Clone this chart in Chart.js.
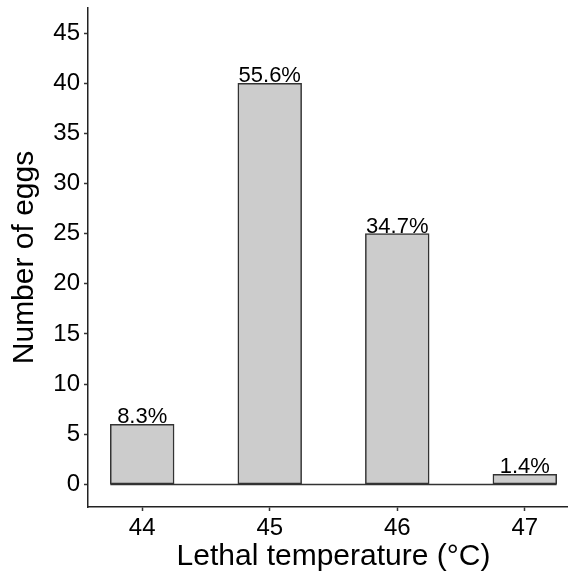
<!DOCTYPE html>
<html><head><meta charset="utf-8">
<script src="https://cdn.jsdelivr.net/npm/chart.js@4/dist/chart.umd.min.js"></script>
<style>html,body{margin:0;padding:0;overflow:hidden;background:#fff;width:568px;height:575px}</style>
</head><body>
<canvas id="c" width="579" height="575" style="display:block;width:579px;height:575px"></canvas>
<script>
const binCenters = [44, 44.5, 45, 45.5, 46, 46.5, 47];
const counts = [6, 0, 40, 0, 25, 0, 1];
const binWidth = 0.5;
const xTicks = [44, 45, 46, 47];
const yTicks = [0, 5, 10, 15, 20, 25, 30, 35, 40, 45];
const xTitle = 'Lethal temperature (°C)';
const yTitle = 'Number of eggs';

const total = counts.reduce((a, b) => a + b, 0);
const pctLabels = counts.map(c => c > 0 ? (c / total * 100).toFixed(1) + '%' : '');
const FONT = "'Liberation Sans', Arial, sans-serif";

const barData = binCenters.map((x, i) => ({x: x, y: counts[i]}));
const baseline = [
  {x: binCenters[0] - binWidth / 2, y: 0},
  {x: binCenters[binCenters.length - 1] + binWidth / 2, y: 0}
];

const labelPlugin = {
  id: 'pctLabels',
  afterDatasetsDraw(chart) {
    const meta = chart.getDatasetMeta(0);
    const ctx = chart.ctx;
    ctx.save();
    ctx.font = '22px ' + FONT;
    ctx.fillStyle = '#000';
    ctx.textAlign = 'center';
    ctx.textBaseline = 'alphabetic';
    meta.data.forEach((el, i) => {
      if (!pctLabels[i]) return;
      ctx.fillText(pctLabels[i], el.x, el.y - 1);
    });
    ctx.restore();
  }
};

new Chart(document.getElementById('c'), {
  type: 'bar',
  data: {
    datasets: [
      {
        type: 'bar',
        data: barData,
        backgroundColor: '#cccccc',
        borderColor: '#333333',
        borderWidth: 1.5,
        borderSkipped: false,
        barPercentage: 1,
        categoryPercentage: 1,
        order: 1
      },
      {
        type: 'line',
        data: baseline,
        borderColor: '#333333',
        borderWidth: 1.5,
        pointRadius: 0,
        fill: false,
        order: 2
      }
    ]
  },
  options: {
    responsive: false,
    animation: false,
    devicePixelRatio: 1,
    layout: {padding: {top: 8, left: 0, right: 0, bottom: 0}},
    plugins: {legend: {display: false}, tooltip: {enabled: false}},
    scales: {
      x: {
        type: 'linear',
        offset: false,
        min: 43.575,
        max: 47.425,
        afterBuildTicks: s => { s.ticks = xTicks.map(v => ({value: v})); },
        afterFit: s => { s.height = 68; s.paddingLeft = 0; s.paddingRight = 0; },
        grid: {display: true, offset: false, drawOnChartArea: false, drawTicks: true, tickLength: 4, tickColor: '#333', tickWidth: 1.5},
        border: {display: true, color: '#222', width: 1.5},
        ticks: {color: '#000', font: {family: FONT, size: 24}, padding: 3, maxRotation: 0, autoSkip: false},
        title: {display: true, text: xTitle, color: '#000', font: {family: FONT, size: 30, lineHeight: 1}, padding: {top: 0, bottom: 3}}
      },
      y: {
        type: 'linear',
        min: -2.25,
        max: 47.5,
        afterBuildTicks: s => { s.ticks = yTicks.map(v => ({value: v})); },
        afterFit: s => { s.width = 88; s.paddingTop = 0; s.paddingBottom = 0; },
        grid: {display: true, offset: false, drawOnChartArea: false, drawTicks: true, tickLength: 4, tickColor: '#333', tickWidth: 1.5},
        border: {display: true, color: '#222', width: 1.5},
        ticks: {color: '#000', font: {family: FONT, size: 24}, padding: 4, autoSkip: false},
        title: {display: true, text: yTitle, color: '#000', font: {family: FONT, size: 30, lineHeight: 1}, padding: {top: 10, bottom: 0}}
      }
    }
  },
  plugins: [labelPlugin]
});
</script>
</body></html>
